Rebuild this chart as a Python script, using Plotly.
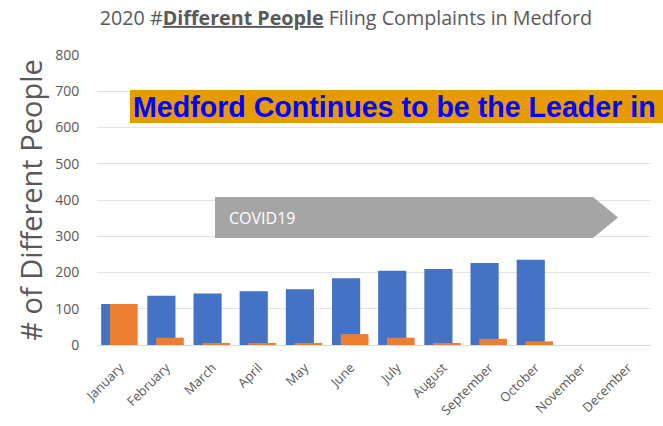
import plotly.graph_objects as go

months = ["January", "February", "March", "April", "May", "June", "July",
          "August", "September", "October", "November", "December"]
series_a = [113, 136, 142, 148, 154, 184, 205, 210, 226, 235, None, None]
series_b = [113, 20, 5, 5, 5, 30, 20, 3, 17, 10, None, None]
y_ticks = [0, 100, 200, 300, 400, 500, 600, 700, 800]

W, H = 663, 426
L, R, T, B = 97, 12, 55, 81
PW, PH = W - L - R, H - T - B

def px(x):
    return (x - L) / PW

def py(y):
    return (H - B - y) / PH

fig = go.Figure()
fig.add_trace(go.Bar(x=months, y=series_a, marker=dict(color="#4472C4", line=dict(width=0)),
                     offset=-0.41, width=0.61, name="A"))
fig.add_trace(go.Bar(x=months, y=series_b, marker=dict(color="#ED7D31", line=dict(width=0)),
                     offset=-0.22, width=0.60, name="B"))

gray = "#595959"
font = "Open Sans, Lato, sans-serif"

shapes = [
    # banner
    dict(type="rect", xref="paper", yref="paper", x0=px(130), x1=px(700), y0=py(123), y1=py(90),
         fillcolor="#E69A00", line=dict(width=0), layer="above"),
    # arrow
    dict(type="path", xref="paper", yref="paper",
         path=f"M {px(215)} {py(197)} L {px(593)} {py(197)} L {px(618)} {py(217.5)} "
              f"L {px(593)} {py(238)} L {px(215)} {py(238)} Z",
         fillcolor="#A5A5A5", line=dict(width=0), layer="above"),
]

annotations = [
    dict(text="<b>Medford Continues to be the Leader in</b>", xref="paper", yref="paper",
         x=px(131), y=py(107), xanchor="left", yanchor="middle", showarrow=False,
         font=dict(family="Liberation Sans, Arial, sans-serif", size=28.6, color="#0000FF")),
    dict(text="COVID19", xref="paper", yref="paper", x=px(227), y=py(217.5),
         xanchor="left", yanchor="middle", showarrow=False,
         font=dict(family=font, size=16, color="white")),
]

fig.update_layout(
    width=W, height=H,
    margin=dict(l=L, r=R, t=T, b=B),
    paper_bgcolor="white", plot_bgcolor="white",
    barmode="overlay", showlegend=False,
    title=dict(text="2020 #<b><u>Different People</u></b> Filing Complaints in Medford",
               x=346 / W, xanchor="center", y=1 - 18 / H, yanchor="middle",
               font=dict(family=font, size=19.7, color=gray)),
    font=dict(family=font, color=gray),
    shapes=shapes, annotations=annotations,
)
fig.update_xaxes(tickangle=-45, tickfont=dict(size=13, color=gray), showgrid=False,
                 showline=True, linecolor="#D9D9D9", ticks="outside", ticklen=9,
                 tickcolor="rgba(0,0,0,0)", range=[-0.5, 11.5], automargin=False)
fig.update_yaxes(range=[0, 800], tickvals=y_ticks, showgrid=True, gridcolor="#E5E5E5",
                 zeroline=False, showline=False, tickfont=dict(size=14, color=gray),
                 ticks="outside", ticklen=14, tickcolor="rgba(0,0,0,0)", automargin=False,
                 title=dict(text="# of Different People", font=dict(size=29, color=gray), standoff=4))

fig.write_html("out.html", config={"displayModeBar": False},
               post_script="document.body.style.margin='0';document.body.style.overflow='hidden';")
